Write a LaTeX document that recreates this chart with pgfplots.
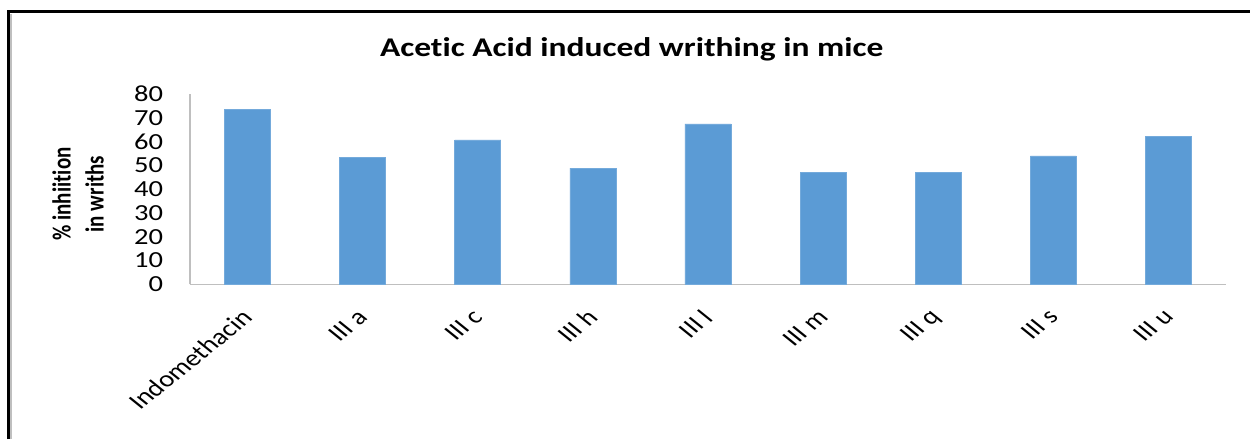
\documentclass[border=0pt]{standalone}
\usepackage{fontspec}
\setmainfont{Carlito}[FakeStretch=1.24, Ligatures=NoCommon]
\newfontfamily\plainfont{Carlito}[Ligatures=NoCommon]
\usepackage{pgfplots}
\pgfplotsset{compat=1.18}
\definecolor{barblue}{HTML}{5B9BD5}
\definecolor{axgray}{HTML}{BFBFBF}
\newcommand{\xl}[1]{\scalebox{1.24}[1]{\rotatebox{45}{\plainfont\fontsize{13.8pt}{16pt}\selectfont #1}}}
\begin{document}
\begin{tikzpicture}[x=1pt,y=1pt]
\useasboundingbox (0,0) rectangle (750,263.4);
\draw[line width=1.8pt] (5.1,0) -- (5.1,256.4) -- (750,256.4);
\draw[axgray, line width=0.8pt] (6.6,0) -- (6.6,255);
\node[anchor=base, font=\bfseries\fontsize{16.2pt}{19pt}\selectfont] at (379,229.4) {Acetic Acid induced writhing in mice};
\node at (48.3,147) {\scalebox{1.24}[1]{\rotatebox{90}{\plainfont\bfseries\fontsize{12.6pt}{16pt}\selectfont\begin{tabular}{@{}c@{}}\% inhiition\\in wriths\end{tabular}}}};
\begin{axis}[
  at={(114pt,92.8pt)}, anchor=south west,
  scale only axis, width=621.6pt, height=114.2pt,
  xmin=-0.5, xmax=8.5, ymin=0, ymax=80,
  axis x line*=bottom, axis y line*=left,
  axis line style={draw=axgray, line width=1pt, -},
  xtick={0,1,2,3,4,5,6,7,8},
  xticklabels={\xl{Indomethacin},\xl{III a},\xl{III c},\xl{III h},\xl{III l},\xl{III m},\xl{III q},\xl{III s},\xl{III u}},
  ytick={0,10,20,30,40,50,60,70,80},
  major tick length=0pt,
  tick style={draw=none},
  /pgf/number format/assume math mode=true,
  yticklabel style={font=\fontsize{13.8pt}{16pt}\selectfont, anchor=east, inner sep=0pt, xshift=-16pt},
  xticklabel style={anchor=north east, inner sep=0pt, xshift=4pt, yshift=-14pt},
  ybar, bar width=27.6pt,
]
\addplot[fill=barblue, draw=barblue!85!white, line width=0.4pt] coordinates {
 (0,73.5) (1,53.2) (2,60.7) (3,48.8) (4,67.4) (5,47.0) (6,47.0) (7,54.0) (8,62.1)
};
\end{axis}
\end{tikzpicture}
\end{document}
